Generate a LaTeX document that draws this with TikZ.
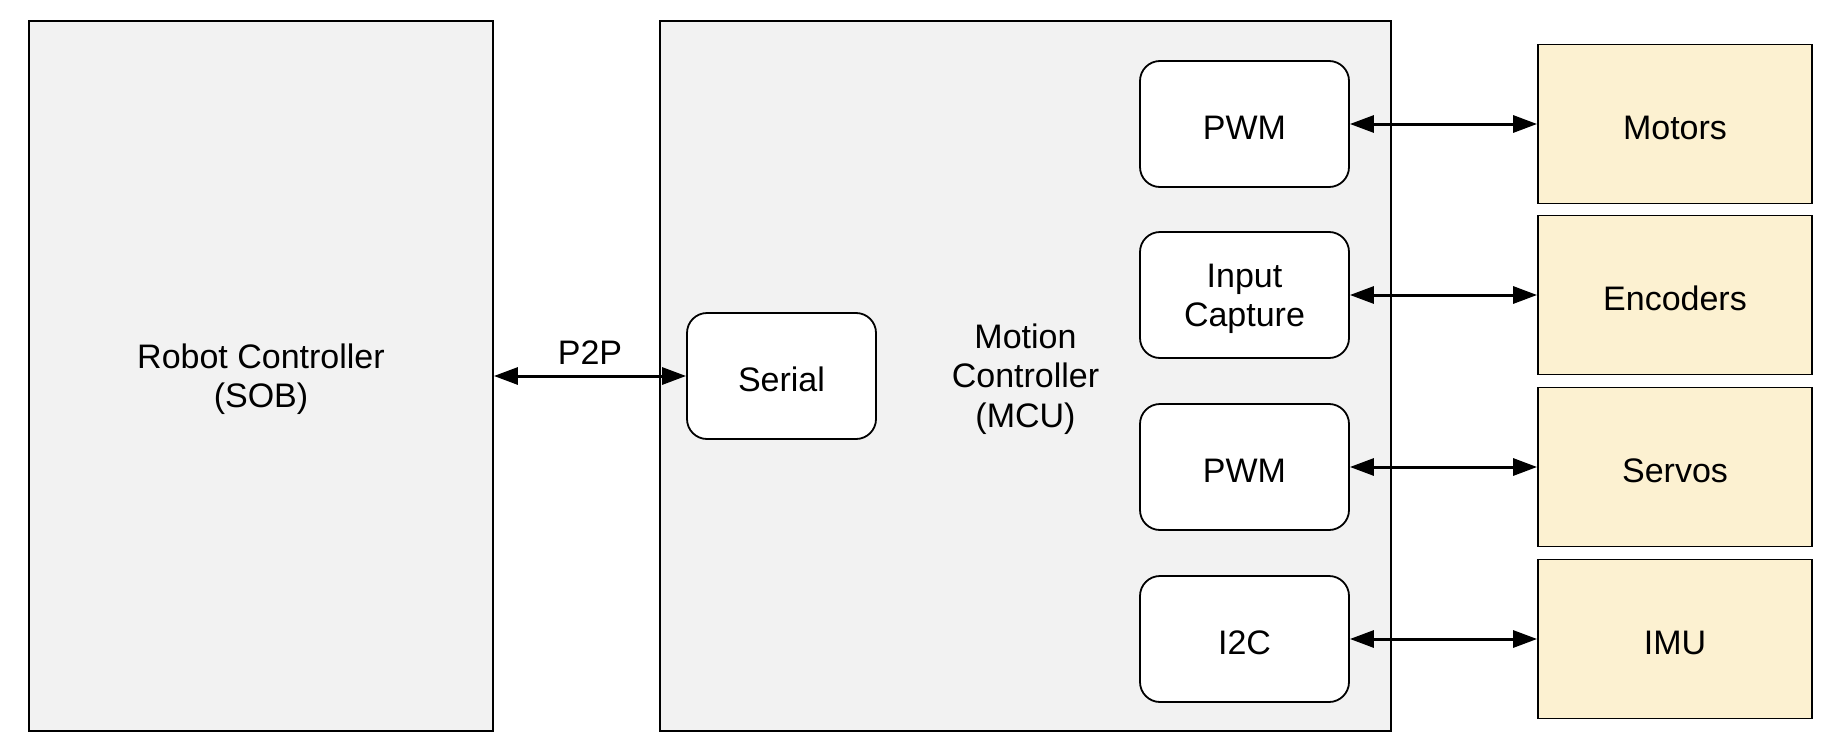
\documentclass[tikz,border=0pt]{standalone}
\usepackage{fontspec}
\setmainfont{Liberation Sans}
\usetikzlibrary{arrows.meta}
\definecolor{boxgray}{HTML}{F2F2F2}
\definecolor{boxyellow}{HTML}{FCF1D1}
\newcommand{\toppad}{\rule{0pt}{31pt}}
\tikzset{
  bigbox/.style={draw=black, line width=1.8pt, fill=boxgray, inner sep=0pt, align=center},
  iface/.style={draw=black, line width=1.8pt, fill=white, rounded corners=20pt, minimum width=209pt, minimum height=126pt, inner sep=0pt, align=center},
  device/.style={draw=black, line width=1.8pt, fill=boxyellow, minimum width=274pt, minimum height=159pt, inner sep=0pt, align=center},
  link/.style={line width=3pt, {Triangle[length=24pt,width=17pt]}-{Triangle[length=24pt,width=17pt]}},
  every node/.style={font=\fontsize{34}{39.5}\selectfont}
}
\begin{document}
\begin{tikzpicture}[x=1pt,y=-1pt]
\useasboundingbox (0,0) rectangle (1832,744);
\node[bigbox, minimum width=464pt, minimum height=710pt] (robot) at (261,376) {\toppad Robot Controller\\(SOB)};
\node[bigbox, minimum width=731pt, minimum height=710pt] (mcu) at (1025.5,376) {\toppad Motion\\Controller\\(MCU)};
\node[iface, minimum width=189pt] (serial) at (781.5,376) {\toppad Serial};
\node[iface] (pwm1) at (1244.5,124) {\toppad PWM};
\node[iface] (ic) at (1244.5,295) {\toppad Input\\Capture};
\node[iface] (pwm2) at (1244.5,467) {\toppad PWM};
\node[iface] (i2c) at (1244.5,639) {\toppad I2C};
\node[device] (motors) at (1675,124) {\toppad Motors};
\node[device] (enc) at (1675,295) {\toppad Encoders};
\node[device] (servos) at (1675,467) {\toppad Servos};
\node[device] (imu) at (1675,639) {\toppad IMU};
\draw[link] (robot.east) -- node[anchor=base, yshift=12pt, inner sep=0pt] (p2p) {P2P} (serial.west);
\draw[link] (pwm1.east) -- (motors.west);
\draw[link] (ic.east) -- (enc.west);
\draw[link] (pwm2.east) -- (servos.west);
\draw[link] (i2c.east) -- (imu.west);
\end{tikzpicture}
\end{document}
